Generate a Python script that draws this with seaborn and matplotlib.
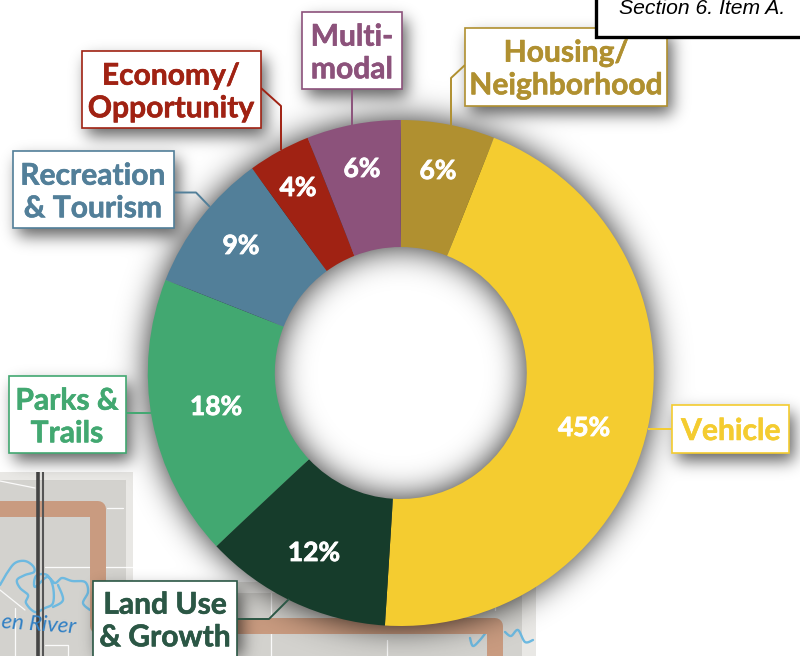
import numpy as np
import matplotlib
matplotlib.use("Agg")
import matplotlib.pyplot as plt
import matplotlib.patheffects as pe
from matplotlib.patches import Rectangle
import seaborn as sns

sns.set_theme(style="white")
plt.rcParams['font.family'] = ['Lato', 'DejaVu Sans']

# ---- data ----
categories = ["Housing/\nNeighborhood", "Vehicle", "Land Use\n& Growth", "Parks &\nTrails",
              "Recreation\n& Tourism", "Economy/\nOpportunity", "Multi-\nmodal"]
values = [6, 45, 12, 18, 9, 4, 6]
wedge_colors = ["#B09030", "#F4CC30", "#163C2B", "#42A871", "#527F99", "#A02213", "#8C527B"]
text_colors = ["#B09030", "#F4CC30", "#2B5745", "#42A871", "#527F99", "#A02213", "#8C527B"]

# ---- layout (pixels) ----
W, H = 800, 656
CX, CY, R, r_in = 400.8, 373, 253, 126
pct_px = [(438, 171), (584, 428), (314, 553), (216, 407), (241, 246), (298, 188), (362, 169)]
boxes = [(465, 28, 667, 106), (672, 405, 789, 453), (93, 581, 237, 680), (9, 376, 126, 453),
         (13, 151, 174, 228), (82, 51, 261, 128), (302, 12, 402, 89)]
text_px = [(566, 69), (731, 431), (165, 621), (67, 417), (93, 192), (171, 92), (352, 53)]
leaders = [[(465, 65), (451, 78), (451, 125)], [(648, 429), (672, 429)],
           [(237, 619), (269, 619), (289, 599)], [(126, 412.5), (151, 412.5)],
           [(174, 192.5), (196, 192.5), (210, 207)], [(261, 88), (281, 106), (281, 150)],
           [(352, 89), (352, 125)]]

fig = plt.figure(figsize=(W / 100, H / 100), dpi=100, facecolor="white")


def pixel_axes(z):
    a = fig.add_axes([0, 0, 1, 1], zorder=z)
    a.set_xlim(0, W)
    a.set_ylim(H, 0)
    a.axis("off")
    a.patch.set_alpha(0)
    return a


def smooth(points, n=12):
    p = np.array(points, float)
    p = np.vstack([p[0], p, p[-1]])
    out = []
    for i in range(1, len(p) - 2):
        for t in np.linspace(0, 1, n, endpoint=False):
            out.append(0.5 * (2 * p[i] + (p[i + 1] - p[i - 1]) * t
                              + (2 * p[i - 1] - 5 * p[i] + 4 * p[i + 1] - p[i + 2]) * t ** 2
                              + (3 * p[i] - p[i - 1] - 3 * p[i + 1] + p[i + 2]) * t ** 3))
    out.append(p[-2])
    return np.array(out)


# ---- background map ----
bg = pixel_axes(0)
map_c, halo_c = "#D3D2CE", "#E9E8E5"
bg.add_patch(Rectangle((0, 472), 133, 110, color=halo_c, lw=0))
bg.add_patch(Rectangle((0, 480), 126, 180, color=map_c, lw=0))
bg.add_patch(Rectangle((126, 582), 410, 80, color=halo_c, lw=0))
bg.add_patch(Rectangle((126, 593), 396, 70, color=map_c, lw=0))
for seg in [[(0, 481), (35, 488)], [(107, 508), (123, 508)], [(45, 567), (133, 567)],
            [(0, 590), (25, 610)], [(15, 608), (15, 656)], [(45, 645), (68, 645), (68, 656)],
            [(271, 593), (271, 656)], [(387, 640), (387, 656)], [(495, 593), (495, 610)]]:
    bg.plot(*zip(*seg), color="white", lw=0.9, alpha=0.9)
rivers = [[(0, 585), (7, 573), (15, 563), (25, 561), (33, 566), (34, 572), (25, 575), (17, 580),
           (20, 588), (28, 595), (26, 603), (35, 612), (45, 608), (53, 603), (53, 587), (47, 575),
           (36, 576), (35, 587), (47, 577), (55, 583), (62, 578), (72, 581), (85, 582), (88, 592),
           (83, 603), (90, 610)],
          [(58, 585), (63, 600), (53, 607)],
          [(470, 638), (473, 646), (480, 640), (487, 631)],
          [(505, 632), (511, 636), (518, 630), (525, 642), (533, 640)]]
for pts in rivers:
    bg.plot(*smooth(pts).T, color="#6DB9E0", lw=1.7)
bg.plot([0, 98, 98, 495, 495], [509, 509, 626, 626, 670], color="#C99B80", lw=11.5,
        solid_joinstyle="round", solid_capstyle="butt")
bg.plot([37.5, 37.5], [472, 656], color="#444444", lw=2.6, solid_capstyle="butt")
bg.plot([43, 43], [472, 656], color="#555555", lw=1.5, solid_capstyle="butt")
bg.text(1, 625, "en River", fontsize=16, style="italic", color="#2F7FC4",
        rotation=-4, ha="left", va="center")


# ---- soft shadows ----
def blur(mask, sigma):
    pad = int(4 * sigma)
    m = np.pad(mask, pad)
    fy = np.fft.fftfreq(m.shape[0])[:, None]
    fx = np.fft.rfftfreq(m.shape[1])[None, :]
    g = np.exp(-2 * (np.pi * sigma) ** 2 * (fx ** 2 + fy ** 2))
    out = np.fft.irfft2(np.fft.rfft2(m) * g, s=m.shape)
    return out[pad:-pad, pad:-pad]


yy, xx = np.mgrid[0:H, 0:W]
dist = np.hypot(xx + 0.5 - CX, yy + 0.5 - CY)
ring = ((dist <= R) & (dist >= r_in)).astype(float)
shadow = 0.85 * blur(ring, 16)
bm = np.zeros((H, W))
for x0, y0, x1, y1 in boxes:
    bm[max(y0 + 8, 0):min(y1 + 8, H), x0 + 5:min(x1 + 5, W)] = 1
shadow = 1 - (1 - shadow) * (1 - 0.62 * blur(bm, 8))
rgba = np.zeros((H, W, 4))
rgba[..., 3] = np.clip(shadow, 0, 1)
bg.imshow(rgba, extent=(0, W, H, 0), zorder=5, aspect="auto", interpolation="bilinear")
bg.set_xlim(0, W)
bg.set_ylim(H, 0)

# ---- donut ----
ax = fig.add_axes([0, 0, 1, 1], zorder=1)
palette = sns.color_palette(wedge_colors)
wedges, _, autotexts = ax.pie(values, colors=palette, startangle=90, counterclock=False,
                              radius=1, center=(0, 0), autopct=lambda p: f"{p:.0f}%",
                              wedgeprops=dict(width=(R - r_in) / R, linewidth=0),
                              textprops=dict(color="white", fontsize=19, fontweight="bold"))
ax.set_xlim(-CX / R, (W - CX) / R)
ax.set_ylim(-(H - CY) / R, CY / R)
ax.patch.set_alpha(0)
for t, (px, py) in zip(autotexts, pct_px):
    t.set_position(((px - CX) / R, (CY - py) / R))
    t.set_ha("center")
    t.set_va("center")
    t.set_path_effects([pe.withStroke(linewidth=0.6, foreground="white")])

# ---- callouts ----
top = pixel_axes(2)
for name, tc, box, pos, lead in zip(categories, text_colors, boxes, text_px, leaders):
    top.plot(*zip(*lead), color=tc, lw=1.4, zorder=1, solid_capstyle="butt")
    x0, y0, x1, y1 = box
    top.add_patch(Rectangle((x0, y0), x1 - x0, y1 - y0, fc="white", ec=tc, lw=1.2, zorder=2))
    label = top.text(pos[0], pos[1], name, color=tc, fontsize=21.6, fontweight="bold", ha="center",
                     va="center", linespacing=1.2, zorder=3)
    label.set_path_effects([pe.withStroke(linewidth=0.4, foreground=tc)])

top.add_patch(Rectangle((596, -10), 220, 47, fc="white", ec="black", lw=2.4, zorder=4))
top.text(702, 8, "Section 6. Item A.", family="Liberation Sans", style="italic", fontsize=15.2,
         color="black", ha="center", va="center", zorder=5)

fig.savefig("out.png", dpi=100)
